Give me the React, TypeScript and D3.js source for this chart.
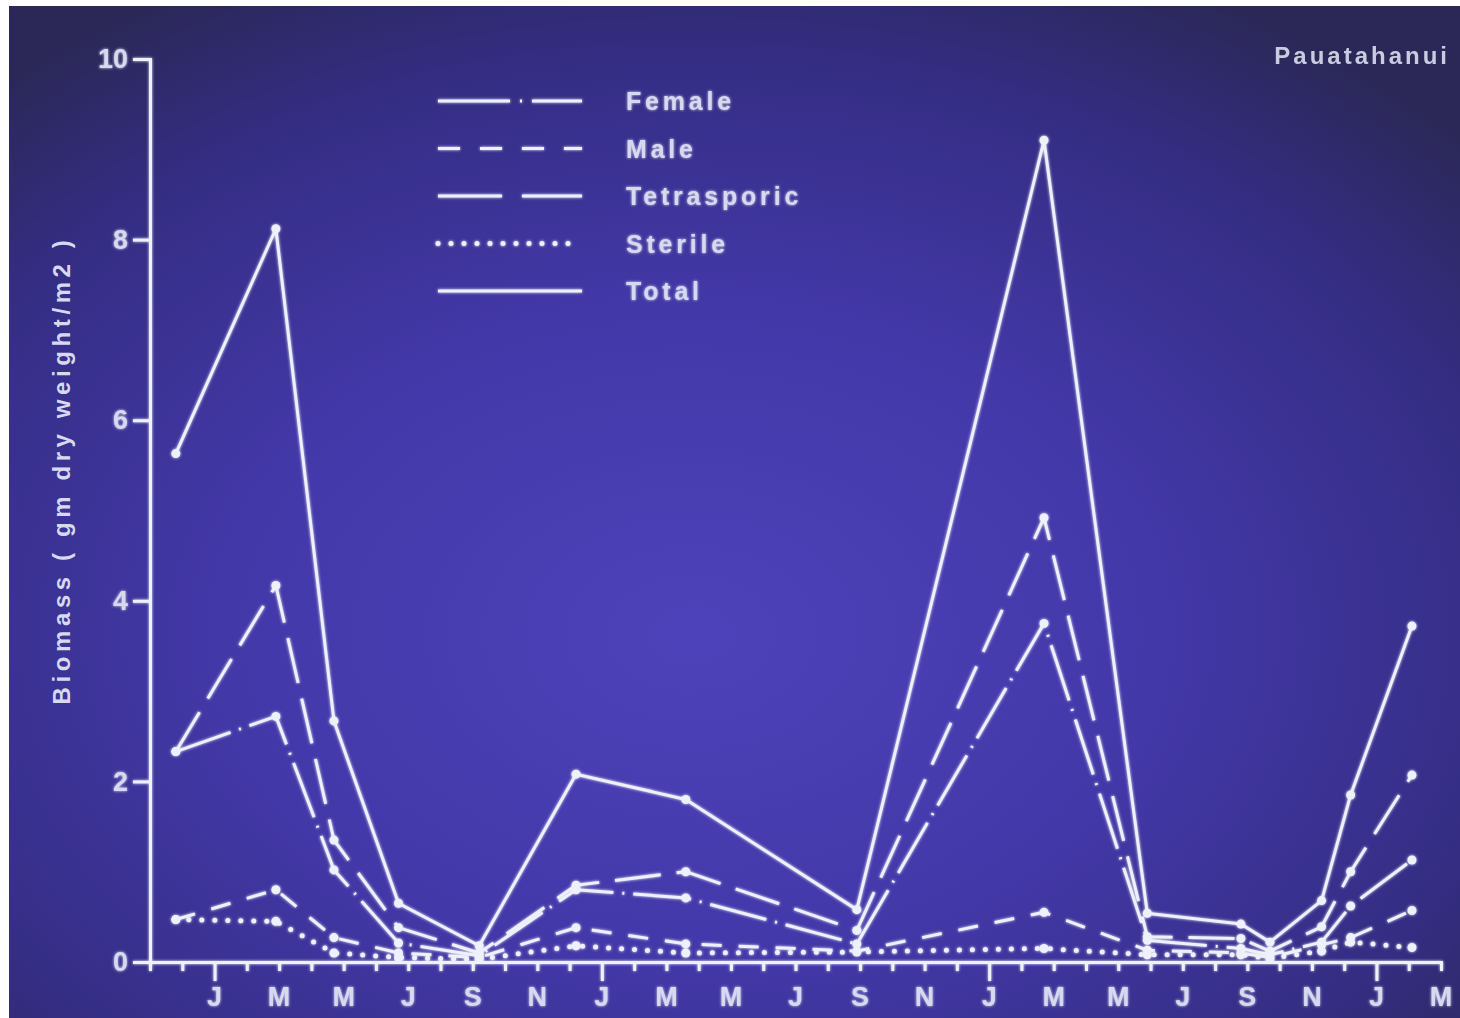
import * as d3 from "d3";
import { useRef, useEffect } from "react";

// sampling dates, in months from the Nov at the origin of the axis
const sampleMonths = [0.8, 3.9, 5.7, 7.7, 10.2, 13.2, 16.6, 21.9, 27.7, 30.9, 33.8, 34.7, 36.3, 37.2, 39.1];

const totalVals = [5.63, 8.12, 2.67, 0.65, 0.18, 2.08, 1.8, 0.58, 9.1, 0.54, 0.42, 0.22, 0.68, 1.85, 3.72];
const tetraVals = [2.33, 4.17, 1.35, 0.38, 0.1, 0.85, 1.0, 0.35, 4.92, 0.28, 0.26, 0.12, 0.39, 1.0, 2.07];
const femaleVals = [2.33, 2.72, 1.02, 0.21, 0.07, 0.8, 0.71, 0.2, 3.75, 0.24, 0.15, 0.08, 0.22, 0.62, 1.13];
const maleVals = [0.47, 0.8, 0.27, 0.1, 0.05, 0.38, 0.2, 0.12, 0.55, 0.13, 0.1, 0.05, 0.19, 0.27, 0.57];
const sterileVals = [0.47, 0.45, 0.1, 0.05, 0.03, 0.18, 0.1, 0.11, 0.15, 0.08, 0.08, 0.04, 0.12, 0.22, 0.16];

const monthLetters = ["J", "M", "M", "J", "S", "N", "J", "M", "M", "J", "S", "N", "J", "M", "M", "J", "S", "N", "J", "M"];
const janMonths = [2, 14, 26, 38];
const yTicks = [0, 2, 4, 6, 8, 10];

const legendNames = ["Female", "Male", "Tetrasporic", "Sterile", "Total"];

const seriesList = [
    { name: "Female", values: femaleVals, dash: "58 9 2 9", legendDash: "72 10 2 10", cap: "butt" },
    { name: "Male", values: maleVals, dash: "20 17", legendDash: "22 20", cap: "butt" },
    { name: "Tetrasporic", values: tetraVals, dash: "46 16", legendDash: "64 20", cap: "butt" },
    { name: "Sterile", values: sterileVals, dash: "0 13", legendDash: "0 13", cap: "round" },
    { name: "Total", values: totalVals, dash: null, legendDash: null, cap: "butt" },
];

const W = 1460, H = 1018;
const ink = "#eef0fb";
const textInk = "#d6d9ef";
const font = "'Liberation Sans', Arial, sans-serif";

export default function App() {
    const ref = useRef<HTMLDivElement>(null);

    useEffect(() => {
        document.body.style.margin = "0";
        const root = d3.select(ref.current);
        root.select("svg").remove();

        const svg = root.append("svg")
            .attr("width", W)
            .attr("height", H)
            .style("display", "block");

        const defs = svg.append("defs");
        const grad = defs.append("radialGradient")
            .attr("id", "bg")
            .attr("cx", "0.47").attr("cy", "0.62").attr("r", "0.72");
        grad.append("stop").attr("offset", "0").attr("stop-color", "#4e42ba");
        grad.append("stop").attr("offset", "0.45").attr("stop-color", "#4338a8");
        grad.append("stop").attr("offset", "0.8").attr("stop-color", "#342d82");
        grad.append("stop").attr("offset", "1").attr("stop-color", "#2b2858");

        const glow = defs.append("filter").attr("id", "glow")
            .attr("x", "-5%").attr("y", "-5%").attr("width", "110%").attr("height", "110%");
        glow.append("feGaussianBlur").attr("in", "SourceGraphic").attr("stdDeviation", 1.6).attr("result", "b");
        const merge = glow.append("feMerge");
        merge.append("feMergeNode").attr("in", "b");
        merge.append("feMergeNode").attr("in", "SourceGraphic");

        svg.append("rect").attr("width", W).attr("height", H).attr("fill", "#ffffff");
        svg.append("rect").attr("x", 9).attr("y", 6).attr("width", W - 9).attr("height", H - 6).attr("fill", "url(#bg)");

        const x = d3.scaleLinear().domain([0, 40]).range([150, 1441]);
        const y = d3.scaleLinear().domain([0, 10]).range([962, 59]);

        const g = svg.append("g").attr("filter", "url(#glow)");

        // y axis
        const yAxis = d3.axisLeft(y).tickValues(yTicks).tickSize(17).tickPadding(5).tickFormat(d3.format("d"));
        const ya = g.append("g").attr("transform", `translate(${x(0)},0)`).call(yAxis);
        ya.select(".domain").attr("stroke", ink).attr("stroke-width", 3);
        ya.selectAll(".tick line").attr("stroke", ink).attr("stroke-width", 3);
        ya.selectAll(".tick text")
            .attr("fill", textInk)
            .style("font", `bold 27px ${font}`);

        // x axis, a tick each month, longer at January
        const xAxis = d3.axisBottom(x).tickValues(d3.range(0, 41)).tickSize(9).tickFormat(() => "");
        const xa = g.append("g").attr("transform", `translate(0,${y(0)})`).call(xAxis);
        xa.select(".domain").attr("stroke", ink).attr("stroke-width", 3);
        xa.selectAll(".tick line")
            .attr("stroke", ink)
            .attr("stroke-width", 3)
            .attr("y2", (d: any) => (janMonths.includes(d) ? 19 : 9));

        g.append("g").selectAll("text")
            .data(monthLetters)
            .join("text")
            .attr("x", (d, i) => x(2 + i * 2))
            .attr("y", 1006)
            .attr("text-anchor", "middle")
            .attr("fill", textInk)
            .style("font", `bold 27px ${font}`)
            .text((d) => d);

        // y label
        svg.append("text")
            .attr("transform", `translate(70,${470}) rotate(-90)`)
            .attr("text-anchor", "middle")
            .attr("fill", textInk)
            .style("font", `bold 24px ${font}`)
            .style("letter-spacing", "4.6px")
            .text("Biomass ( gm dry weight/m2 )");

        // site name
        svg.append("text")
            .attr("x", 1450)
            .attr("y", 64)
            .attr("text-anchor", "end")
            .attr("fill", "#c9cce0")
            .style("font", `bold 24px ${font}`)
            .style("letter-spacing", "3px")
            .text("Pauatahanui");

        // series
        const line = d3.line<number>()
            .x((d, i) => x(sampleMonths[i]))
            .y((d) => y(d));

        seriesList.forEach((s) => {
            g.append("path")
                .datum(s.values)
                .attr("fill", "none")
                .attr("stroke", ink)
                .attr("stroke-width", s.name === "Sterile" ? 5 : 3)
                .attr("stroke-linecap", s.cap)
                .attr("stroke-linejoin", "round")
                .attr("stroke-dasharray", s.dash)
                .attr("d", line);

            g.append("g").selectAll("circle")
                .data(s.values)
                .join("circle")
                .attr("cx", (d, i) => x(sampleMonths[i]))
                .attr("cy", (d) => y(d))
                .attr("r", 4.5)
                .attr("fill", ink);
        });

        // legend
        const legendY = d3.scalePoint().domain(legendNames).range([101, 291]);
        const lg = g.append("g");
        seriesList.forEach((s) => {
            const ly = legendY(s.name)!;
            lg.append("line")
                .attr("x1", 438).attr("x2", s.name === "Sterile" ? 578 : 582)
                .attr("y1", ly).attr("y2", ly)
                .attr("stroke", ink)
                .attr("stroke-width", s.name === "Sterile" ? 5 : 3)
                .attr("stroke-linecap", s.cap)
                .attr("stroke-dasharray", s.legendDash);
            lg.append("text")
                .attr("x", 626)
                .attr("y", ly + 9)
                .attr("fill", textInk)
                .style("font", `bold 25px ${font}`)
                .style("letter-spacing", "3.8px")
                .text(s.name);
        });
    }, []);

    return <div ref={ref}></div>;
}
